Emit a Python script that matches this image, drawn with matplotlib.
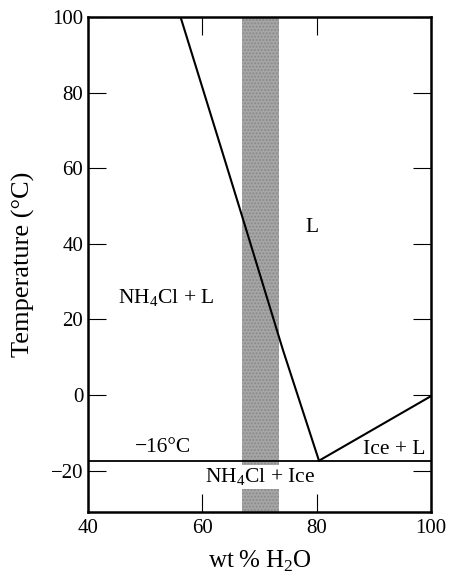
import matplotlib
matplotlib.use("Agg")
import matplotlib.pyplot as plt

# liquidus of NH4Cl (left branch) and ice (right branch)
salt_x = [56.2, 63.4, 66.9, 74.1, 80.4]
salt_t = [100, 64.8, 47.6, 11.9, -17.4]
ice_x = [80.4, 100]
ice_t = [-17.4, -0.3]
eutectic_t = -17.4
band = (66.9, 73.4)

labels = ["L", "NH$_4$Cl + L", "\u221216\u00b0C", "Ice + L"]
label_x = [79.2, 53.6, 53.1, 93.6]
label_t = [44.4, 25.7, -14.0, -14.5]

plt.rcParams['font.family'] = ['Liberation Serif', 'DejaVu Serif']
plt.rcParams['mathtext.fontset'] = 'custom'
plt.rcParams['mathtext.rm'] = 'Liberation Serif'

fig = plt.figure(figsize=(4.49, 5.76), dpi=100)
ax = fig.add_axes([0.196, 0.111, 0.764, 0.859])

ax.axvspan(band[0], band[1], color='#a6a6a6', hatch='.....', ec='#8a8a8a', lw=0, zorder=1)
ax.plot(salt_x, salt_t, color='black', lw=1.5, zorder=3)
ax.plot(ice_x, ice_t, color='black', lw=1.5, zorder=3)
ax.axhline(eutectic_t, color='black', lw=1.3, zorder=3)

for s, x, y in zip(labels, label_x, label_t):
    ax.text(x, y, s, ha='center', va='center', fontsize=15.5, zorder=4)
ax.text(70.1, -21.7, "NH$_4$Cl + Ice", ha='center', va='center', fontsize=15.5, zorder=4,
        bbox=dict(facecolor='white', edgecolor='none', pad=1.0))

ax.set_xlim(40, 100)
ax.set_ylim(-31, 100)
ax.set_xticks([40, 60, 80, 100])
ax.set_yticks([-20, 0, 20, 40, 60, 80, 100])
ax.set_yticklabels(["\u221220", "0", "20", "40", "60", "80", "100"])
ax.tick_params(direction='in', length=13, width=0.8, top=True, right=True, labelsize=15)
ax.tick_params(axis='x', pad=5)
ax.tick_params(axis='y', pad=3.5)
for sp in ax.spines.values():
    sp.set_linewidth(1.8)

ax.set_xlabel("wt\u2009% H$_2$O", fontsize=18, labelpad=8)
ax.set_ylabel("Temperature (\u00b0C)", fontsize=19, labelpad=11)

fig.savefig("out.png", dpi=100)
